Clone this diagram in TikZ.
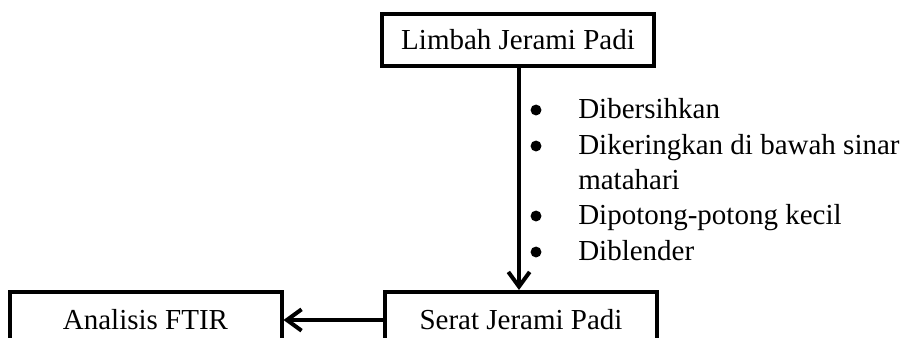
\documentclass[tikz,border=0pt]{standalone}
\usepackage{fontspec}
\setmainfont{Liberation Serif}
\usetikzlibrary{arrows.meta}
\begin{document}
\begin{tikzpicture}[x=0.75pt,y=-0.75pt,
  box/.style={draw,line width=3pt,rectangle,inner sep=0pt,
    minimum width=272*0.75pt,minimum height=52*0.75pt,
    font=\fontsize{21.75}{25}\selectfont},
  flow/.style={line width=3pt,-{Straight Barb[length=11pt,width=16pt,line width=3pt]}},
  item/.style={anchor=base west,inner sep=0pt,font=\fontsize{21.75}{25}\selectfont},
  dot/.style={circle,fill,inner sep=0pt,minimum size=8.2pt}]
\useasboundingbox (0,0) rectangle (906,337);
% boxes
\node[box] (limbah) at (518,40) {Limbah Jerami Padi};
\node[box,minimum height=56*0.75pt] (serat) at (521,320) {Serat Jerami Padi};
\node[box,minimum height=56*0.75pt] (ftir) at (145.5,320) {Analisis FTIR};
% connectors
\draw[flow] (limbah.south -| 519,0) -- (serat.north -| 519,0);
\draw[flow] (serat.west) -- (ftir.east);
% treatment steps
\node[dot] (b1) at (536,110) {};
\node[dot] (b2) at (536,146) {};
\node[dot] (b3) at (536,216) {};
\node[dot] (b4) at (536,252) {};
\node[item] (s1) at (578,118) {Dibersihkan};
\node[item] (s2) at (578,154) {Dikeringkan di bawah sinar};
\node[item] (s2b) at (578,189) {matahari};
\node[item] (s3) at (578,224) {Dipotong-potong kecil};
\node[item] (s4) at (578,260) {Diblender};
\end{tikzpicture}
\end{document}
